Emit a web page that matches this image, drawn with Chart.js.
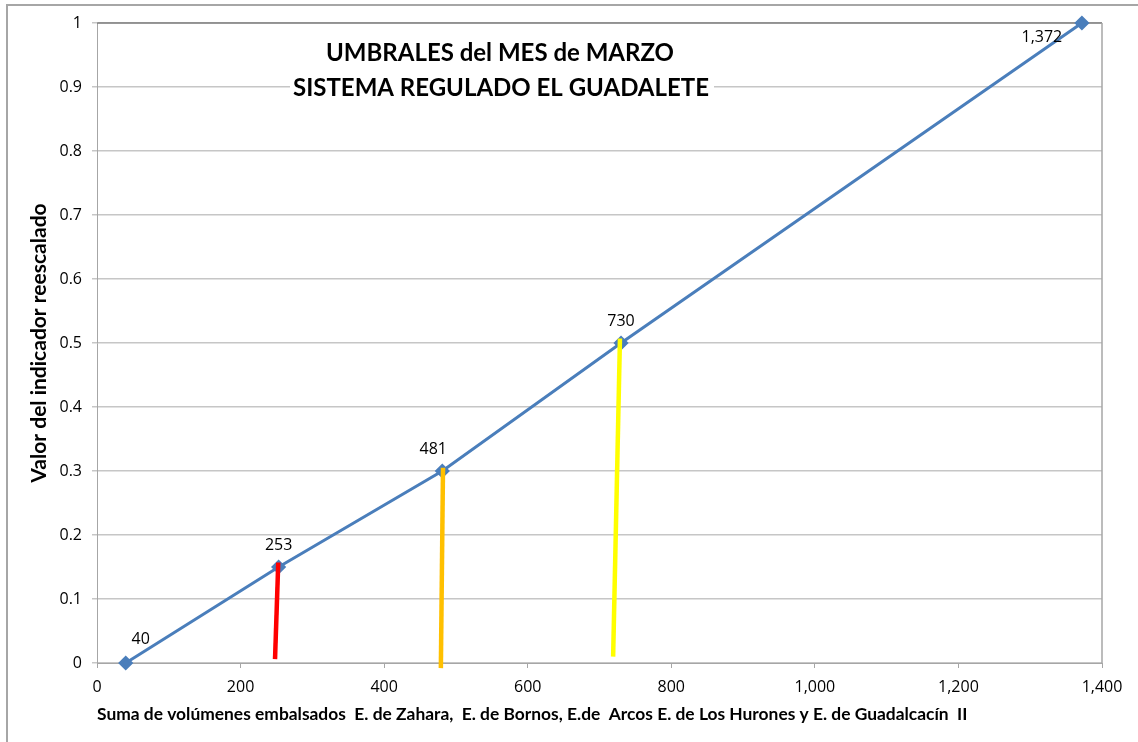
<!DOCTYPE html>
<html>
<head>
<meta charset="utf-8">
<script src="https://cdn.jsdelivr.net/npm/chart.js@4.4.1/dist/chart.umd.min.js"></script>
<style>
  html, body { margin: 0; padding: 0; background: #fff; overflow: hidden; }
  #frame { position: absolute; left: 6px; top: 4px; width: 1200px; height: 800px; border: 2px solid #a6a6a6; box-sizing: border-box; }
  #wrap { position: absolute; left: 0; top: 0; width: 1138px; height: 742px; }
</style>
</head>
<body>
<div id="frame"></div>
<div id="wrap"><canvas id="chart" width="1138" height="742"></canvas></div>
<script>
// Umbrales: volumen embalsado (hm3) frente a indicador reescalado
const volumenes = [40, 253, 481, 730, 1372];
const indicador = [0, 0.15, 0.3, 0.5, 1];

// Marcas de umbral (inicio y fin de cada trazo)
const rojoX = [248, 252.5];
const rojoY = [0.006, 0.157];
const naranjaX = [479, 482];
const naranjaY = [-0.008, 0.305];
const amarilloX = [719, 728.5];
const amarilloY = [0.01, 0.507];

const tituloLineas = ['UMBRALES del MES de MARZO', 'SISTEMA REGULADO EL GUADALETE'];
const tituloEjeX = 'Suma de volúmenes embalsados  E. de Zahara,  E. de Bornos, E.de  Arcos E. de Los Hurones y E. de Guadalcacín  II';
const tituloEjeY = 'Valor del indicador reescalado';

function pares(xs, ys) {
  return xs.map((x, i) => ({ x: x, y: ys[i] }));
}

// Title box drawn inside the plot area, over the grid
const tituloPlugin = {
  id: 'tituloInterno',
  afterDatasetsDraw(chart) {
    const ctx = chart.ctx;
    ctx.save();
    ctx.fillStyle = '#fff';
    ctx.fillRect(290, 36, 424, 66);
    ctx.fillStyle = '#000';
    ctx.font = 'bold 24px Lato, "Open Sans", sans-serif';
    ctx.textAlign = 'center';
    ctx.textBaseline = 'middle';
    ctx.fillText(tituloLineas[0], 500, 53, 356);
    ctx.fillText(tituloLineas[1], 501, 88, 418);
    ctx.restore();
  }
};

// Value labels next to each point of the main series
const etiquetasPlugin = {
  id: 'etiquetas',
  afterDatasetsDraw(chart) {
    const ctx = chart.ctx;
    const meta = chart.getDatasetMeta(0);
    const offs = [[15, -24], [0, -22], [-9, -22], [0, -22], [-40, 14]];
    ctx.save();
    ctx.fillStyle = '#000';
    ctx.font = '16px "Open Sans", sans-serif';
    ctx.textAlign = 'center';
    ctx.textBaseline = 'middle';
    meta.data.forEach((pt, i) => {
      const txt = volumenes[i].toLocaleString('en-US');
      ctx.fillText(txt, pt.x + offs[i][0], pt.y + offs[i][1]);
    });
    ctx.restore();
  }
};

const ctx = document.getElementById('chart');
new Chart(ctx, {
  type: 'scatter',
  data: {
    datasets: [
      {
        label: 'Umbrales',
        data: pares(volumenes, indicador),
        showLine: true,
        borderColor: '#4a7ebb',
        backgroundColor: '#4a7ebb',
        borderWidth: 3,
        pointStyle: 'rectRot',
        pointRadius: 5.5,
        pointHoverRadius: 5.5,
        clip: false,
        order: 1
      },
      {
        label: 'rojo',
        data: pares(rojoX, rojoY),
        showLine: true,
        borderColor: '#ff0000',
        borderWidth: 4.5,
        pointRadius: 0,
        clip: false,
        order: 0
      },
      {
        label: 'naranja',
        data: pares(naranjaX, naranjaY),
        showLine: true,
        borderColor: '#ffc000',
        borderWidth: 4.5,
        pointRadius: 0,
        clip: false,
        order: 0
      },
      {
        label: 'amarillo',
        data: pares(amarilloX, amarilloY),
        showLine: true,
        borderColor: '#ffff00',
        borderWidth: 4.5,
        pointRadius: 0,
        clip: false,
        order: 0
      }
    ]
  },
  options: {
    responsive: false,
    animation: false,
    layout: { padding: { left: 0, top: 23, right: 36, bottom: 0 } },
    plugins: {
      legend: { display: false },
      tooltip: { enabled: false }
    },
    scales: {
      x: {
        type: 'linear',
        min: 0,
        max: 1400,
        afterFit: (s) => { s.height = 79; },
        ticks: {
          stepSize: 200,
          color: '#000',
          padding: 10,
          font: { family: '"Open Sans", sans-serif', size: 16 },
          callback: (v) => v.toLocaleString('en-US')
        },
        grid: { display: true, drawOnChartArea: false, color: '#a6a6a6', tickLength: 5 },
        border: { color: '#a6a6a6', width: 1 },
        title: {
          display: true,
          text: tituloEjeX,
          align: 'start',
          color: '#000',
          font: { family: 'Lato, sans-serif', size: 17.4, weight: 'bold' },
          padding: { top: 4, bottom: 17 }
        }
      },
      y: {
        min: 0,
        max: 1,
        afterFit: (s) => { s.width = 97; },
        ticks: {
          stepSize: 0.1,
          color: '#000',
          padding: 10,
          font: { family: '"Open Sans", sans-serif', size: 16 },
          callback: (v) => String(Math.round(v * 10) / 10)
        },
        grid: { color: '#c6c6c6', tickLength: 5, lineWidth: 1.5 },
        border: { color: '#a6a6a6', width: 1 },
        title: {
          display: true,
          text: tituloEjeY,
          color: '#000',
          font: { family: 'Lato, sans-serif', size: 21, weight: 'bold' },
          padding: { top: 27, bottom: 0 }
        }
      }
    }
  },
  plugins: [
    {
      id: 'bordeArea',
      beforeDatasetsDraw(chart) {
        const a = chart.chartArea;
        const c = chart.ctx;
        c.save();
        c.strokeStyle = '#7f7f7f';
        c.lineWidth = 1.5;
        c.beginPath();
        c.moveTo(a.left, a.top);
        c.lineTo(a.right, a.top);
        c.stroke();
        c.strokeStyle = '#a6a6a6';
        c.beginPath();
        c.moveTo(a.right, a.top);
        c.lineTo(a.right, a.bottom);
        c.stroke();
        c.restore();
      }
    },
    tituloPlugin,
    etiquetasPlugin
  ]
});
</script>
</body>
</html>
